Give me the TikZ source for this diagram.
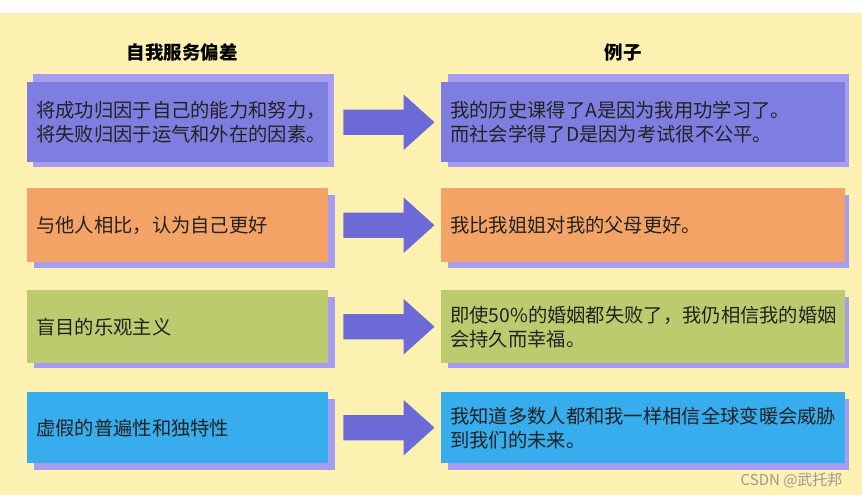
\documentclass[tikz,border=0pt]{standalone}
\usepackage{fontspec}
\setmainfont{Noto Sans CJK SC}
\usetikzlibrary{positioning,calc,shapes.arrows}
\definecolor{bgYellow}{HTML}{FCF1B0}
\definecolor{sLavender}{HTML}{A79DF0}
\definecolor{bViolet}{HTML}{7E7EE0}
\definecolor{bOrange}{HTML}{F4A366}
\definecolor{bGreen}{HTML}{BCCB6E}
\definecolor{bCyan}{HTML}{38ADEE}
\definecolor{aViolet}{HTML}{6C6AD6}
\definecolor{tDark}{HTML}{222222}

\begin{document}
\begin{tikzpicture}[x=1pt,y=-1pt,
  biasbox/.style={anchor=north west, inner xsep=9pt, inner ysep=0pt,
    minimum width=301pt, text width=283pt, align=left, text=tDark,
    font=\fontsize{19.3}{24}\selectfont},
  examplebox/.style={biasbox, minimum width=403pt, text width=386pt},
  blockarrow/.style={single arrow, fill=aViolet, inner xsep=0pt, inner ysep=12.5pt,
    minimum height=91pt, single arrow head extend=15pt, single arrow tip angle=84},
  heading/.style={font=\fontsize{18.5}{22}\selectfont\bfseries}]
  \useasboundingbox (0,0) rectangle (862,498);
  \fill[white] (0,0) rectangle (862,498);
  \fill[bgYellow] (0,13) rectangle (862,495);

  % headings
  \node[heading] (hbias) at (182,52) {自我服务偏差};
  \node[heading] (hexam) at (623,52) {例子};

  % shadows
  \fill[sLavender] (33,74) rectangle (334,167);
  \fill[sLavender] (448,74) rectangle (849,167);
  \fill[sLavender] (34,195) rectangle (335,268);
  \fill[sLavender] (448,195) rectangle (849,268);
  \fill[sLavender] (34,297) rectangle (335,368);
  \fill[sLavender] (448,297) rectangle (849,368);
  \fill[sLavender] (34,399) rectangle (335,470);
  \fill[sLavender] (448,399) rectangle (849,470);

  % bias boxes
  \node[biasbox, fill=bViolet, minimum height=80pt] (l1) at (27,82)
    {将成功归因于自己的能力和努力，\\将失败归因于运气和外在的因素。};
  \node[biasbox, fill=bOrange, minimum height=74pt] (l2) at (27,188)
    {与他人相比，认为自己更好};
  \node[biasbox, fill=bGreen, minimum height=73pt] (l3) at (27,290)
    {盲目的乐观主义};
  \node[biasbox, fill=bCyan, minimum height=71pt] (l4) at (27,392)
    {虚假的普遍性和独特性};

  % example boxes
  \node[examplebox, fill=bViolet, minimum height=80pt] (r1) at (441,82)
    {我的历史课得了A是因为我用功学习了。\\而社会学得了D是因为考试很不公平。};
  \node[examplebox, fill=bOrange, minimum height=74pt] (r2) at (441,188)
    {我比我姐姐对我的父母更好。};
  \node[examplebox, fill=bGreen, minimum height=73pt] (r3) at (441,290)
    {即使50\%的婚姻都失败了，我仍相信我的婚姻\\会持久而幸福。};
  \node[examplebox, fill=bCyan, minimum height=71pt] (r4) at (441,392)
    {我知道多数人都和我一样相信全球变暖会威胁\\到我们的未来。};

  % arrows
  \node[blockarrow] (a1) at ($(l1.east)+(53.5,0)$) {};
  \node[blockarrow] (a2) at ($(l2.east)+(53.5,0)$) {};
  \node[blockarrow] (a3) at ($(l3.east)+(53.5,0)$) {};
  \node[blockarrow] (a4) at ($(l4.east)+(53.5,0)$) {};

  \node[text=black!40, font=\fontsize{15}{18}\selectfont, anchor=east] (mark) at (846,480) {CSDN @武托邦};
\end{tikzpicture}
\end{document}
